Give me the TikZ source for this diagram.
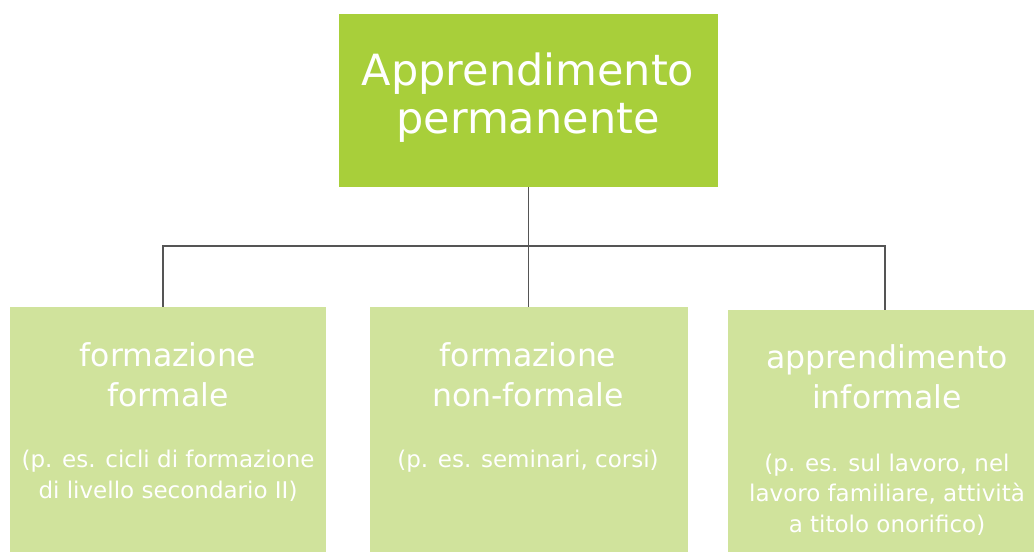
\documentclass[tikz,border=0pt]{standalone}
\usepackage{fontspec}
\setmainfont{DejaVu Sans}
\usepackage{tikz}

\definecolor{topgreen}{HTML}{A8CF3A}
\definecolor{lightgreen}{HTML}{D0E39C}
\definecolor{linegray}{HTML}{555555}

\begin{document}
\begin{tikzpicture}[x=1pt,y=-1pt,
	topbox/.style={fill=topgreen,minimum width=379pt,minimum height=173pt,inner sep=0pt},
	subbox/.style={fill=lightgreen,anchor=north,minimum height=245pt,inner sep=0pt},
	maintext/.style={anchor=base,align=center,text=white,inner sep=0pt,font=\fontsize{43}{48}\selectfont},
	subtext/.style={anchor=base,align=center,text=white,inner sep=0pt,font=\fontsize{31.5}{39.5}\selectfont},
	smalltext/.style={anchor=base,align=center,text=white,inner sep=0pt,font=\fontsize{23}{30.5}\selectfont},
	conn/.style={draw=linegray,line width=1.5pt}]
	
	\useasboundingbox (0,0) rectangle (1034,552);
	
	\node[topbox] (top) at (528.5,100.5) {};
	
	\node[subbox,minimum width=316pt] (formal) at (168,307) {};
	
	\node[subbox,minimum width=318pt] (nonformal) at (528.5,307) {};
	
	\node[subbox,minimum width=306pt,minimum height=242pt] (informal) at (881,310) {};
	
	% the base anchor sits on the last line
	\node[maintext] (toptext) at (528,133) {Apprendimento\\permanente};
	
	\node[subtext] (formalt) at (168,406) {formazione\\formale};
	
	\node[subtext] (nonformalt) at (528,406) {formazione\\non-formale};
	
	\node[subtext] (informalt) at (887,408) {apprendimento\\informale};
	
	\node[smalltext] (formals) at (168,498) {(p. es. cicli di formazione\\di livello secondario II)};
	
	\node[smalltext] (nonformals) at (528,467) {(p. es. seminari, corsi)};
	
	\node[smalltext] (informals) at (887,532) {(p. es. sul lavoro, nel\\lavoro familiare, attività\\a titolo onorifico)};
	
	\coordinate (hub) at (528.5,246);
	
	\draw[conn] (top.south) -- (hub);
	\draw[conn] (hub) -| ([xshift=-5pt]formal.north);
	\draw[conn] (hub) -| ([xshift=4pt]informal.north);
	\draw[conn] (hub) -- (nonformal.north);
	
\end{tikzpicture}
\end{document}
